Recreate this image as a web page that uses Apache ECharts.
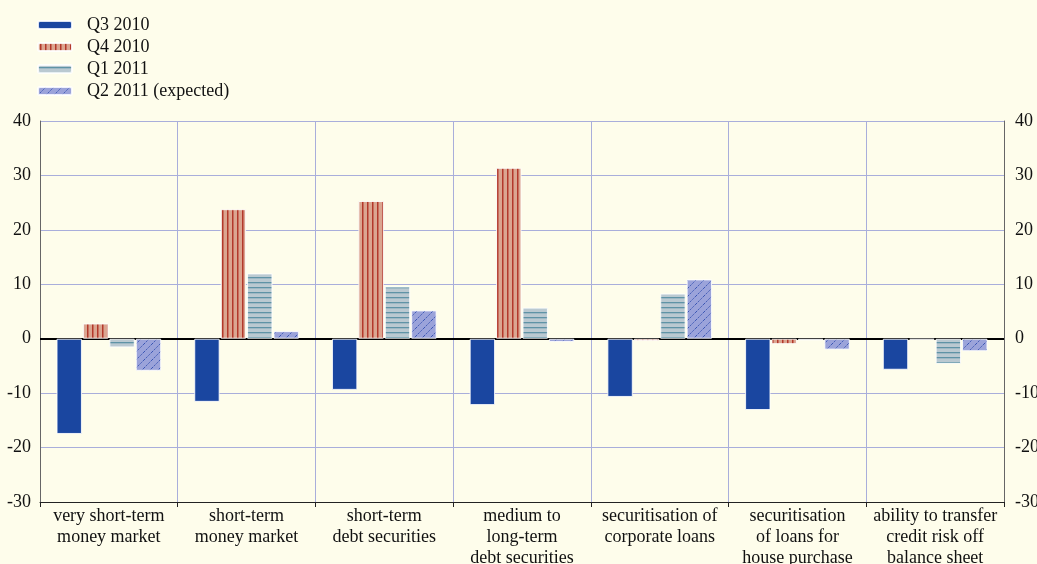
<!DOCTYPE html>
<html>
<head>
<meta charset="utf-8">
<script src="https://cdn.jsdelivr.net/npm/echarts@6/dist/echarts.min.js"></script>
<style>
html,body{margin:0;padding:0;background:#fefdeb;}
#chart{width:1037px;height:564px;}
</style>
</head>
<body>
<div id="chart"></div>
<script>
const categories = [
  "very short-term\nmoney market",
  "short-term\nmoney market",
  "short-term\ndebt securities",
  "medium to\nlong-term\ndebt securities",
  "securitisation of\ncorporate loans",
  "securitisation\nof loans for\nhouse purchase",
  "ability to transfer\ncredit risk off\nbalance sheet"
];
const seriesNames = ["Q3 2010", "Q4 2010", "Q1 2011", "Q2 2011 (expected)"];
const q3_2010 = [-17.5, -11.6, -9.4, -12.2, -10.7, -13.1, -5.7];
const q4_2010 = [2.8, 23.8, 25.3, 31.4, -0.4, -1.0, -0.2];
const q1_2011 = [-1.6, 12.0, 9.6, 5.7, 8.3, -0.3, -4.6];
const q2_2011 = [-5.9, 1.4, 5.2, -0.6, 10.9, -2.0, -2.3];
const yTicks = [-30, -20, -10, 0, 10, 20, 30, 40];

function makePattern(w, h, draw) {
  const c = document.createElement('canvas');
  c.width = w; c.height = h;
  const ctx = c.getContext('2d');
  draw(ctx, w, h);
  return { image: c, repeat: 'repeat' };
}
const patQ4 = makePattern(5, 5, (ctx, w, h) => {
  ctx.fillStyle = '#dba590'; ctx.fillRect(0, 0, w, h);
  ctx.fillStyle = '#b3382a'; ctx.fillRect(2, 0, 1.5, h);
});
const patQ1 = makePattern(5, 5, (ctx, w, h) => {
  ctx.fillStyle = '#bac9d1'; ctx.fillRect(0, 0, w, h);
  ctx.fillStyle = '#5f93a6'; ctx.fillRect(0, 2, w, 1.3);
});
const patQ2 = makePattern(8, 8, (ctx, w, h) => {
  ctx.fillStyle = '#9ba3da'; ctx.fillRect(0, 0, w, h);
  ctx.strokeStyle = '#3a55b3'; ctx.lineWidth = 1;
  ctx.setLineDash([1.5, 1]);
  ctx.beginPath(); ctx.moveTo(0, h); ctx.lineTo(w, 0); ctx.stroke();
  ctx.beginPath(); ctx.moveTo(-1, 1); ctx.lineTo(1, -1); ctx.stroke();
  ctx.beginPath(); ctx.moveTo(w - 1, h + 1); ctx.lineTo(w + 1, h - 1); ctx.stroke();
});

const font = "'Liberation Serif', 'Times New Roman', serif";
const chart = echarts.init(document.getElementById('chart'), null, { renderer: 'canvas' });

const baseBar = {
  type: 'bar',
  barGap: '4%',
  barCategoryGap: '24%',
  yAxisIndex: 0,
  z: 3
};
const border = { borderColor: 'rgba(255,255,255,0.85)', borderWidth: 1 };

chart.setOption({
  backgroundColor: '#fefdeb',
  animation: false,
  textStyle: { fontFamily: font },
  legend: {
    orient: 'vertical',
    left: 32,
    top: 11,
    itemWidth: 34,
    itemHeight: 8,
    itemGap: 4,
    textStyle: { fontFamily: font, fontSize: 18, color: '#111', lineHeight: 18, padding: [0, 0, 0, 10] },
    data: seriesNames
  },
  grid: { left: 40, right: 33, top: 121, bottom: 62, containLabel: false, outerBoundsMode: 'none' },
  xAxis: {
    type: 'category',
    data: categories,
    position: 'bottom',
    axisLine: { onZero: false, lineStyle: { color: '#222', width: 1 } },
    axisTick: { show: true, length: 5, lineStyle: { color: '#222' } },
    axisLabel: { interval: 0, fontFamily: font, fontSize: 18, color: '#111', lineHeight: 21, margin: 4 },
    splitLine: { show: true, lineStyle: { color: '#a9aedb', width: 1 } }
  },
  yAxis: [
    {
      type: 'value', min: -30, max: 40, interval: 10, position: 'left',
      axisLine: { show: true, lineStyle: { color: '#666' } },
      axisTick: { show: false },
      axisLabel: { fontFamily: font, fontSize: 18, color: '#111', margin: 9 },
      splitLine: { show: true, lineStyle: { color: '#a9aedb', width: 1 } }
    },
    {
      type: 'value', min: -30, max: 40, interval: 10, position: 'right',
      axisLine: { show: true, lineStyle: { color: '#666' } },
      axisTick: { show: false },
      axisLabel: { fontFamily: font, fontSize: 18, color: '#111', margin: 11 },
      splitLine: { show: false }
    }
  ],
  series: [
    Object.assign({}, baseBar, { name: seriesNames[0], data: q3_2010, itemStyle: Object.assign({ color: '#1a46a0' }, border) }),
    Object.assign({}, baseBar, { name: seriesNames[1], data: q4_2010, itemStyle: Object.assign({ color: patQ4 }, border) }),
    Object.assign({}, baseBar, { name: seriesNames[2], data: q1_2011, itemStyle: Object.assign({ color: patQ1 }, border) }),
    Object.assign({}, baseBar, { name: seriesNames[3], data: q2_2011, itemStyle: Object.assign({ color: patQ2 }, border) }),
    {
      name: 'zero', type: 'line', data: [], yAxisIndex: 0, z: 2, silent: true,
      markLine: {
        silent: true, symbol: 'none', label: { show: false }, z: 2,
        lineStyle: { color: '#000', width: 2, type: 'solid' },
        data: [{ yAxis: 0 }]
      }
    }
  ]
});
</script>
</body>
</html>
